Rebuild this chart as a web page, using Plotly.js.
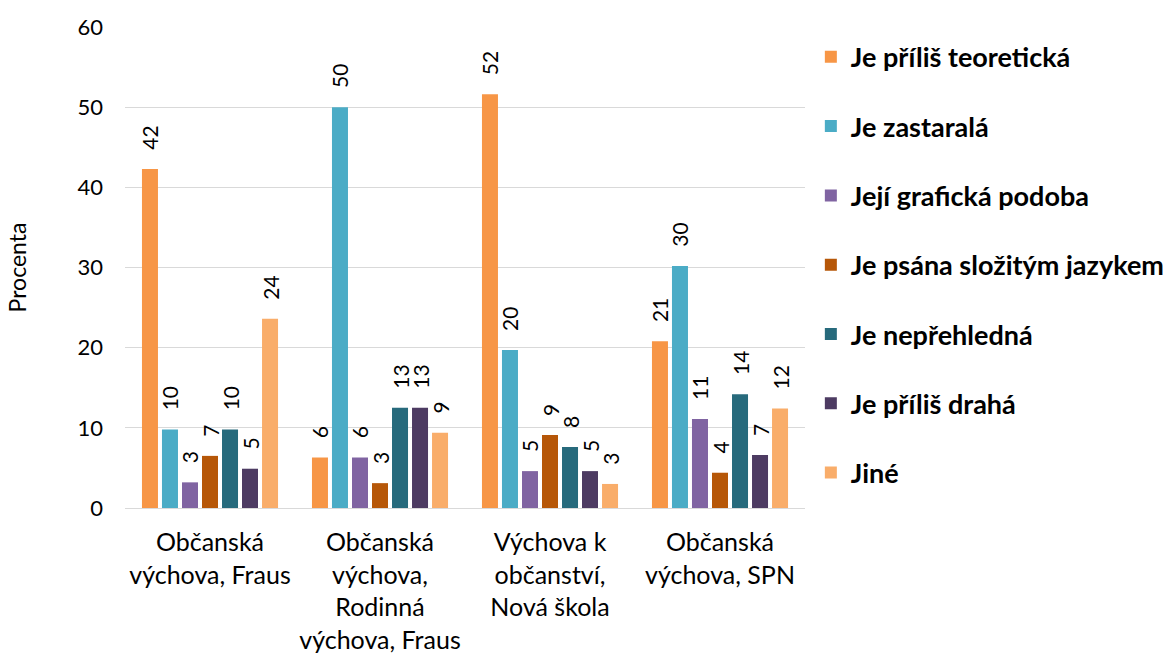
<!DOCTYPE html>
<html>
<head>
<meta charset="utf-8">
<script src="https://cdn.plot.ly/plotly-3.0.1.min.js"></script>
<style>html,body{margin:0;padding:0;background:#fff;}#chart{width:1174px;height:653px;}</style>
</head>
<body>
<div id="chart"></div>
<script>
const categories = [
  "Občanská<br>výchova, Fraus",
  "Občanská<br>výchova,<br>Rodinná<br>výchova, Fraus",
  "Výchova k<br>občanství,<br>Nová škola",
  "Občanská<br>výchova, SPN"
];
const seriesNames = [
  "Je příliš teoretická",
  "Je zastaralá",
  "Její grafická podoba",
  "Je psána složitým jazykem",
  "Je nepřehledná",
  "Je příliš drahá",
  "Jiné"
];
const teoreticka = [42.3, 6.3, 51.6, 20.8];
const zastarala  = [9.8, 50.0, 19.7, 30.2];
const graficka   = [3.2, 6.3, 4.6, 11.1];
const jazyk      = [6.5, 3.1, 9.1, 4.4];
const neprehledna= [9.8, 12.5, 7.6, 14.2];
const draha      = [4.9, 12.5, 4.6, 6.6];
const jine       = [23.6, 9.4, 3.0, 12.4];
const seriesValues = [teoreticka, zastarala, graficka, jazyk, neprehledna, draha, jine];
const colors = ["#F79646", "#4BACC6", "#8064A2", "#B65708", "#276A7C", "#4D3B62", "#F9AD6A"];

const FONT = "Lato, 'Open Sans', sans-serif";

const traces = seriesNames.map((name, i) => ({
  type: "bar",
  name: name,
  x: categories,
  y: seriesValues[i],
  marker: {color: colors[i]},
  legendgroup: "g" + i,
  texttemplate: "\u00a0\u00a0\u00a0%{y:.0f}",
  textposition: "outside",
  textangle: -90,
  constraintext: "none",
  cliponaxis: false,
  textfont: {family: FONT, size: 21, color: "#000"},
  hoverinfo: "skip"
}));

const layout = {
  width: 1174,
  height: 653,
  margin: {l: 125, r: 369, t: 27, b: 145, pad: 0, autoexpand: false},
  paper_bgcolor: "#fff",
  plot_bgcolor: "#fff",
  barmode: "group",
  bargap: 0.176,
  bargroupgap: 0.2,
  font: {family: FONT, size: 20, color: "#000"},
  xaxis: {
    type: "category",
    showgrid: false,
    showline: false,
    zeroline: false,
    ticks: "",
    tickfont: {family: FONT, size: 25, color: "#000"},
    ticklabelstandoff: 17,
    automargin: false
  },
  yaxis: {
    range: [0, 60],
    dtick: 10,
    tick0: 0,
    showgrid: true,
    gridcolor: "#D9D9D9",
    gridwidth: 1,
    zeroline: true,
    zerolinecolor: "#D9D9D9",
    zerolinewidth: 1,
    showline: false,
    ticks: "",
    automargin: false,
    tickfont: {family: FONT, size: 22, color: "#000"},
    ticklabelstandoff: 21,
    title: {text: "Procenta", font: {family: FONT, size: 23, color: "#000"}, standoff: 44}
  },
  showlegend: true,
  legend: {
    x: 1.0086,
    xanchor: "left",
    y: 0.988,
    yanchor: "top",
    traceorder: "grouped",
    tracegroupgap: 31.2,
    font: {family: FONT, size: 27, color: "#000", weight: "bold"},
    bgcolor: "rgba(0,0,0,0)",
    borderwidth: 0
  }
};

Plotly.newPlot("chart", traces, layout, {displayModeBar: false, staticPlot: true});
</script>
</body>
</html>
